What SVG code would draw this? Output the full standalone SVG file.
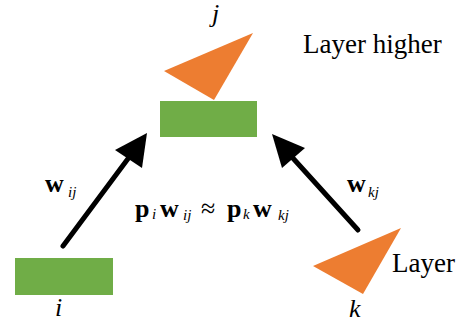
<svg xmlns="http://www.w3.org/2000/svg" width="463" height="322" viewBox="0 0 463 322">
<style>
.tri{fill:#ED7D31}
.rect{fill:#70AD47}
.serif{font-family:"Liberation Serif","Times New Roman",Times,"Nimbus Roman","Nimbus Roman No9 L","Noto Serif","DejaVu Serif",FreeSerif,serif}
.lbl{font-style:italic;font-size:26px;fill:#000}
.txt{font-size:27px;fill:#000}
.bold{font-weight:bold;font-size:26px;fill:#000}
.sub{font-style:italic;font-weight:normal;font-size:15px}
.line{stroke:#000;stroke-width:5;stroke-linecap:round;fill:none}
.head{fill:#000}
</style>
<rect width="463" height="322" fill="#fff"/>
<g id="node-j">
<polygon class="tri" points="164,71 253,33 214,100"/>
<rect class="rect" x="160" y="101" width="97" height="36"/>
<text class="lbl serif" x="212" y="22">j</text>
</g>
<g id="node-i">
<rect class="rect" x="15" y="258" width="98" height="37"/>
<text class="lbl serif" x="55" y="316">i</text>
</g>
<g id="node-k">
<polygon class="tri" points="313,266 401,228 363,294"/>
<text class="lbl serif" x="349" y="317">k</text>
</g>
<g id="connectors">
<line class="line" x1="63" y1="246" x2="130" y2="156"/>
<polygon class="head" points="147,133 115,150 142,168"/>
<line class="line" x1="358" y1="230" x2="291" y2="156"/>
<polygon class="head" points="272,134 305,148 282,168"/>
</g>
<g id="labels">
<text class="bold serif" x="45" y="192">w<tspan class="sub" x="68" y="197">ij</tspan></text>
<text class="bold serif" x="347" y="192">w<tspan class="sub" x="368" y="197">kj</tspan></text>
<text class="bold serif" y="217"><tspan x="135">p</tspan><tspan class="sub" x="152" y="219">i</tspan><tspan x="160" y="217">w</tspan><tspan class="sub" x="183" y="220">ij</tspan><tspan x="201" y="217" font-weight="normal">≈</tspan><tspan x="227" y="217">p</tspan><tspan class="sub" x="243" y="219">k</tspan><tspan x="253" y="217">w</tspan><tspan class="sub" x="278" y="220">kj</tspan></text>
<text class="txt serif" x="303" y="53">Layer higher</text>
<text class="txt serif" x="392" y="272">Layer</text>
</g>
</svg>
